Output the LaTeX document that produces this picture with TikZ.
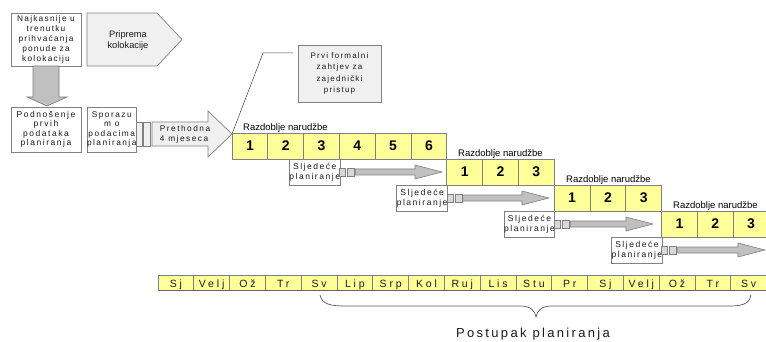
\documentclass[tikz,border=0pt]{standalone}
\usepackage{fontspec}
\setmainfont{Liberation Sans}
\newfontfamily\spA[LetterSpace=15]{Liberation Sans}
\newfontfamily\spB[LetterSpace=27]{Liberation Sans}
\newfontfamily\spC[LetterSpace=18]{Liberation Sans}
\definecolor{bord}{HTML}{808080}
\definecolor{cellY}{HTML}{FFFF99}
\definecolor{lightfill}{HTML}{F0F0F0}
\definecolor{midgray}{HTML}{C0C0C0}
\definecolor{sqfill}{HTML}{D8D8D8}
\definecolor{txt}{HTML}{1A1A1A}
\newcommand\nextarrow[3]{%
  \draw[sqbox] ({#1},{#2-4}) rectangle ({#1+6},{#2+4});
  \draw[sqbox] ({#1+8},{#2-4}) rectangle ({#1+15},{#2+4});
  \draw[thinarrow] ({#1+16},{#2-3}) -- ({#3-27},{#2-3}) -- ({#3-27},{#2-7}) -- ({#3},{#2})
     -- ({#3-27},{#2+7}) -- ({#3-27},{#2+3}) -- ({#1+16},{#2+3}) -- cycle;
}
\begin{document}
\begin{tikzpicture}[x=1pt,y=-1pt,
  plainbox/.style={draw=bord, fill=white, line width=0.7pt, inner sep=0pt, outer sep=0pt,
    align=center, anchor=north west, text=txt, font={\spA\fontsize{8}{10}\selectfont}},
  greybox/.style={plainbox, fill=lightfill},
  cell/.style={draw=bord, fill=cellY, line width=0.7pt, minimum width=35.8pt, minimum height=26pt,
    inner sep=0pt, outer sep=0pt, anchor=north west, text=black, font={\bfseries\fontsize{14}{14}\selectfont}},
  month/.style={draw=bord, fill=cellY, line width=0.7pt, minimum width=35.8pt, minimum height=15pt,
    inner sep=0pt, outer sep=0pt, anchor=north west, text=txt, text height=9pt, text depth=0pt,
    font={\spB\fontsize{10.5}{10.5}\selectfont}},
  lbl/.style={inner sep=0pt, anchor=base west, text=black, font={\fontsize{9.5}{9.5}\selectfont}},
  nextbox/.style={plainbox, minimum width=50pt, minimum height=26pt, font={\spC\fontsize{8.5}{10}\selectfont}},
  sqbox/.style={draw=bord, fill=sqfill, line width=0.6pt},
  thinarrow/.style={draw=bord, fill=midgray, line width=0.6pt},
  shapefill/.style={draw=bord, fill=lightfill, line width=0.7pt},
  leader/.style={draw=black!75, line width=0.5pt},
  bracecol/.style={draw=black!65, line width=0.7pt}
]
\useasboundingbox (0,0) rectangle (766,342);

% top-left boxes
\node[plainbox, minimum width=70pt, minimum height=53pt, font={\spA\fontsize{8.3}{10}\selectfont}] (najk) at (11,13)
  {Najkasnije u\\trenutku\\prihvaćanja\\ponude za\\kolokaciju};
\draw[shapefill] (87,13) -- (157,13) -- (182,39.5) -- (157,66) -- (87,66) -- cycle;
\node[inner sep=0pt, align=center, text=txt, font={\fontsize{9.3}{11}\selectfont}] (prip) at (128,40.5)
  {Priprema\\kolokacije};
% down arrow
\draw[draw=bord, fill=midgray, line width=0.7pt] (33,66) -- (59,66) -- (59,97) -- (67,97) -- (47,106)
  -- (27,97) -- (33,97) -- cycle;
\node[plainbox, minimum width=70pt, minimum height=45pt, font={\spC\fontsize{8.5}{9.5}\selectfont}] (podn) at (11,107)
  {Podnošenje\\prvih\\podataka\\planiranja};
\node[plainbox, minimum width=48pt, minimum height=45pt, font={\spC\fontsize{8.3}{9.5}\selectfont}] (spor) at (87,107)
  {Sporazu\\m o\\podacima\\planiranja};
\draw[sqbox, fill=lightfill] (136,122) rectangle (142,146);
\draw[sqbox, fill=lightfill] (143.5,122) rectangle (150,146);
% prethodna arrow
\draw[shapefill] (152,122) -- (208,122) -- (208,111) -- (232,134) -- (208,157) -- (208,146) -- (152,146) -- cycle;
\node[inner sep=0pt, align=left, text=txt, font={\spC\fontsize{8.3}{9.5}\selectfont}] (preth) at (185,134.5)
  {Prethodna\\4 mjeseca};
\coordinate (ptip) at (232,134);
\coordinate (bend) at (263,53);
\coordinate (lend) at (293,53);
\draw[leader] (ptip) -- (bend) -- (lend);
\node[greybox, minimum width=83pt, minimum height=57pt, font={\spA\fontsize{8}{11.3}\selectfont}] (prvi) at (298,45)
  {Prvi formalni\\zahtjev za\\zajednički\\pristup};

% order periods
\foreach \i in {1,...,6} \node[cell] (ra\i) at ({232+35.8*(\i-1)},133) {\i};
\foreach \i in {1,2,3} \node[cell] (rb\i) at ({446.8+35.8*(\i-1)},159) {\i};
\foreach \i in {1,2,3} \node[cell] (rc\i) at ({554.2+35.8*(\i-1)},185) {\i};
\foreach \i in {1,2,3} \node[cell] (rd\i) at ({661.6+35.8*(\i-1)},211) {\i};
\node[lbl] (la) at (243,130.5) {Razdoblje narudžbe};
\node[lbl] (lb) at (458,156.5) {Razdoblje narudžbe};
\node[lbl] (lc) at (566,182.5) {Razdoblje narudžbe};
\node[lbl] (ld) at (673,208.5) {Razdoblje narudžbe};

% next planning
\node[nextbox] (sa) at (289.4,159) {Sljedeće\\planiranje};
\node[nextbox] (sb) at (396.8,185) {Sljedeće\\planiranje};
\node[nextbox] (sc) at (504.2,211) {Sljedeće\\planiranje};
\node[nextbox] (sd) at (611.6,237) {Sljedeće\\planiranje};
\nextarrow{339.4}{172}{442}
\nextarrow{446.8}{198}{549}
\nextarrow{554.2}{224}{653}
\nextarrow{661.6}{250}{765}

% months
\foreach \m [count=\i from 0] in {Sj,Velj,Ož,Tr,Sv,Lip,Srp,Kol,Ruj,Lis,Stu,Pr,Sj,Velj,Ož,Tr,Sv}
  \node[month] (m\i) at ({158+35.8*\i},275) {\m};
\draw[draw=black!60, line width=1pt] (m0.south west) -- (m16.south east);

% brace
\draw[bracecol] (320,295) .. controls (322,304) and (330,306) .. (345,306) -- (520,306)
  .. controls (530,306) and (535,310) .. (536,317)
  .. controls (537,310) and (542,306) .. (552,306) -- (730,306)
  .. controls (745,306) and (750,302) .. (751,295);
\node[inner sep=0pt, text=txt, font={\spC\fontsize{13}{13}\selectfont}] (post) at (533,334) {Postupak planiranja};
\end{tikzpicture}
\end{document}
